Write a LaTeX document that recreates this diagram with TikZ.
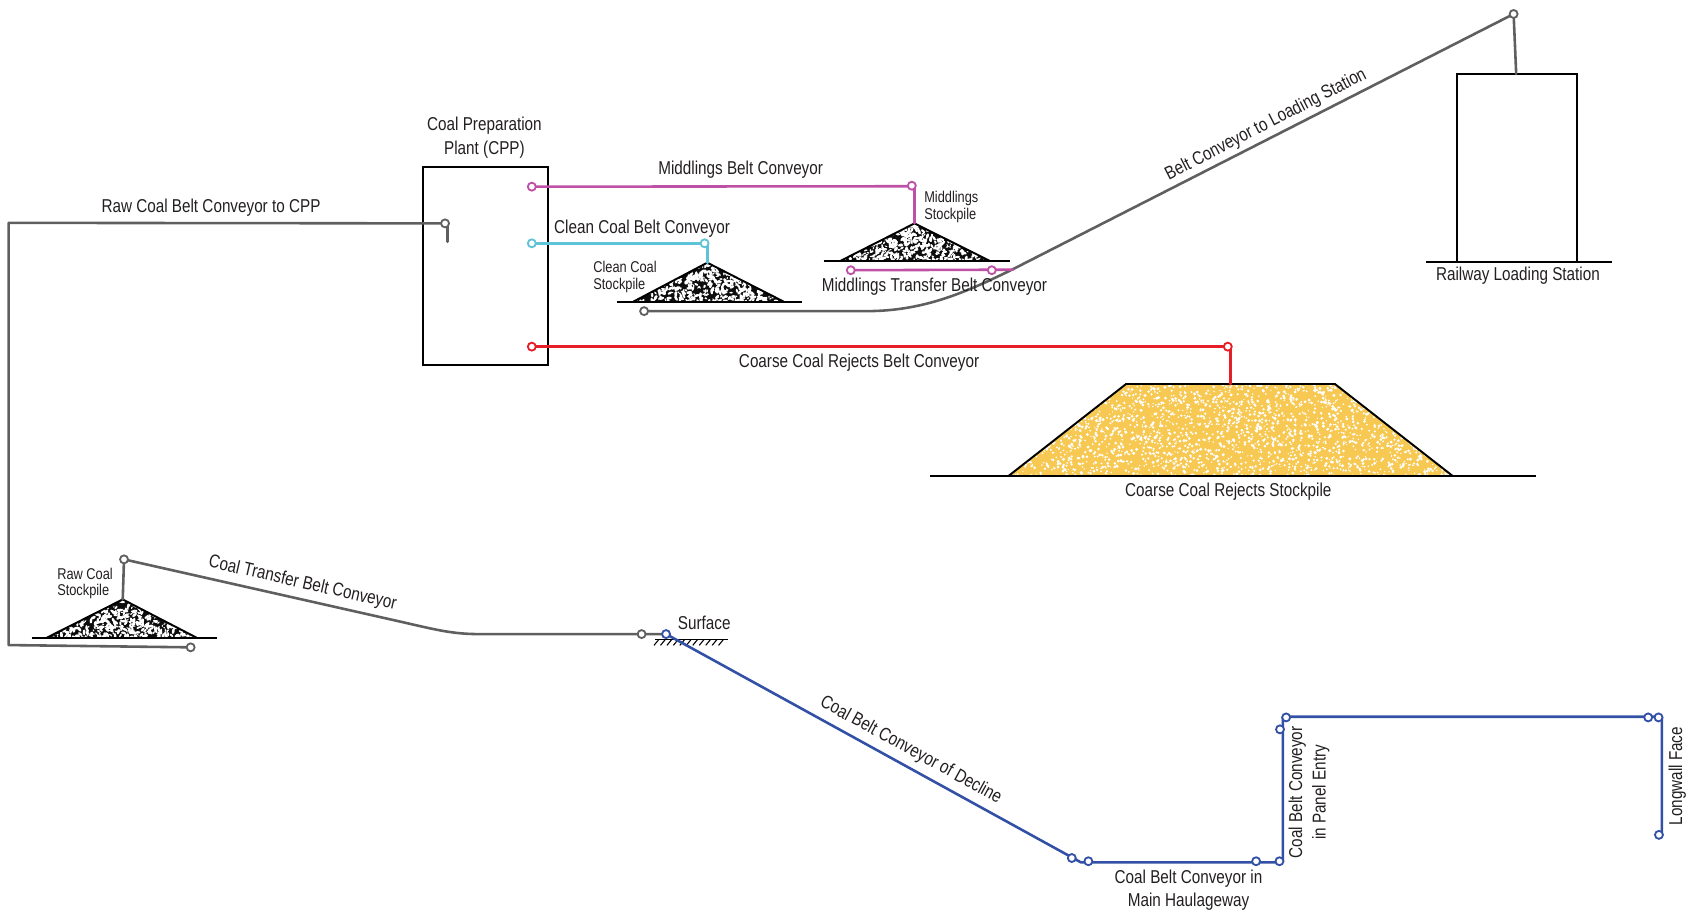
\documentclass[tikz,border=0pt]{standalone}
\usepackage{fontspec}
\setmainfont{Liberation Sans}[FakeStretch=0.82]
\definecolor{cgray}{RGB}{95,95,95}
\definecolor{cmag}{RGB}{190,80,165}
\definecolor{ccyan}{RGB}{95,195,215}
\definecolor{cred}{RGB}{230,30,40}
\definecolor{cblue}{RGB}{50,80,165}
\definecolor{cyel}{RGB}{247,200,82}
\definecolor{ctext}{RGB}{35,31,32}
\newcommand\coalpile[8]{%
  \begin{scope}
    \clip (#3,#5) -- (#1,#2) -- (#4,#5) -- cycle;
    \fill[black!95] (#3,#5) rectangle (#4,#2);
    \pgfmathsetseed{#8}
    \foreach \k in {1,...,700}{%
      \pgfmathsetmacro\spx{#3+rnd*(#4-#3)}%
      \pgfmathsetmacro\spy{#2+rnd*(#5-#2)}%
      \pgfmathsetmacro\spr{0.7+1.0*rnd}%
      \pgfmathsetmacro\spa{180*rnd}%
      \fill[white,rotate around={\spa:(\spx,\spy)}] (\spx,\spy) ellipse [x radius=1.6*\spr, y radius=0.8*\spr];}
  \end{scope}
  \draw[ground] (#3,#5) -- (#1,#2) -- (#4,#5);
  \draw[ground] (#6,#5) -- (#7,#5);
}
\begin{document}
\begin{tikzpicture}[x=1pt,y=-1pt,
  every node/.style={text=ctext,inner sep=0pt},
  lbl/.style={font=\fontsize{17.3}{21.7}\selectfont,align=center},
  slbl/.style={font=\fontsize{14.5}{15.5}\selectfont,align=left,anchor=west},
  belt/.style={line width=2.4pt,line join=round,line cap=round},
  ground/.style={line width=1.8pt,black,line join=miter},
  pulley/.style={circle,draw,fill=white,line width=1.7pt,minimum size=7.4pt,inner sep=0pt}]
\useasboundingbox (0,0) rectangle (1568,847);

% ---------- named points ----------
\coordinate (gA) at (177.1,601.3);
\coordinate (gB) at (413.4,207.5);
\coordinate (gC) at (115.2,519.6);
\coordinate (gD) at (596,589);
\coordinate (gE) at (598.3,289);
\coordinate (gF) at (1406,13);
\coordinate (mA) at (494,173.4);
\coordinate (mB) at (847,172.5);
\coordinate (mC) at (790.3,251);
\coordinate (mD) at (921.3,251);
\coordinate (cA) at (494,226);
\coordinate (cB) at (654.5,226);
\coordinate (rA) at (494,322);
\coordinate (rB) at (1140.5,322);
\coordinate (bA) at (618.7,589);
\coordinate (bB) at (995.6,797);
\coordinate (bC) at (1011,800);
\coordinate (bD) at (1166.8,800);
\coordinate (bE) at (1188.5,800);
\coordinate (bF) at (1189,677.5);
\coordinate (bG) at (1194.7,666.4);
\coordinate (bH) at (1531,666.4);
\coordinate (bI) at (1540.6,666.4);
\coordinate (bJ) at (1541,775.5);
\coordinate (rawApex) at (114,556.8);
\coordinate (cleanApex) at (657,244);
\coordinate (midApex) at (849.5,207.5);
\coordinate (rejTop) at (1143,356.7);
\coordinate (railTop) at (1408.4,68.7);

% ---------- structures ----------
\draw[ground] (393.3,154.8) rectangle (508.8,339);
\node[lbl] (tcpp) at (450,128) {Coal Preparation\\Plant (CPP)};

\draw[ground] (1353.3,243) -- (1353.3,68.7) -- (1464.7,68.7) -- (1464.7,243);
\draw[ground] (1325,243) -- (1497,243);
\node[lbl] (trail) at (1410,256) {Railway Loading Station};

% stockpiles
\coalpile{114}{556.8}{43.4}{182.7}{592.4}{29.4}{201.3}{3}
\coalpile{657}{244}{588.3}{728}{280.2}{573}{745}{5}
\coalpile{849.5}{207.5}{780.4}{919.7}{242.5}{765}{938}{9}

\begin{scope}
  \clip (936.7,442.2) -- (1046,356.7) -- (1240,356.7) -- (1349.5,442.2) -- cycle;
  \fill[cyel] (936.7,442.2) rectangle (1349.5,356.7);
  \pgfmathsetseed{11}
  \foreach \k in {1,...,2600}{%
    \pgfmathsetmacro\spx{936.7+rnd*412.8}%
    \pgfmathsetmacro\spy{356.7+rnd*85.5}%
    \pgfmathsetmacro\spr{0.6+0.9*rnd}%
    \fill[white] (\spx,\spy) circle (\spr);}
\end{scope}
\draw[ground] (936.7,442.2) -- (1046,356.7) -- (1240,356.7) -- (1349.5,442.2);
\draw[ground] (864,442.2) -- (1427,442.2);

% surface
\draw[line width=1.5pt] (608.5,594) -- (676,594);
\foreach \hx in {612,618,...,676}{\draw[line width=1pt] (\hx,594) -- (\hx-4.5,599.5);}
\node[lbl,anchor=west] (tsurf) at (629.5,579) {Surface};

% ---------- belts ----------
\draw[belt,cgray] (gA) -- (8,599.2) -- (8,207) -- (gB);
\draw[belt,cgray,line width=2.7pt] (416,210) -- (416,224.5);
\draw[belt,cgray] (gC) -- (rawApex);
\draw[belt,cgray] (gC) -- (370,577) .. controls (405,585) and (420,589) .. (445,589) -- (gD) -- (bA);
\draw[belt,cgray] (gE) -- (805,289) .. controls (860,289) and (900,270) .. (941,250) -- (gF) -- (railTop);
\draw[belt,cmag] (mA) -- (849.5,173) -- (midApex);
\draw[belt,cmag] (mC) -- (941,250.5);
\draw[belt,ccyan] (cA) -- (657,226) -- (cleanApex);
\draw[belt,cred] (rA) -- (1143,322) -- (rejTop);
\draw[belt,cblue] (bA) -- (1004,801) -- (1191.6,801) -- (1191.6,665.8) -- (1543.7,665.8) -- (1543.7,776);

% ---------- pulleys ----------
\foreach \p in {gA,gB,gC,gD,gE,gF}{\node[pulley,draw=cgray] at (\p) {};}
\foreach \p in {mA,mB,mC,mD}{\node[pulley,draw=cmag] at (\p) {};}
\foreach \p in {cA,cB}{\node[pulley,draw=ccyan] at (\p) {};}
\foreach \p in {rA,rB}{\node[pulley,draw=cred] at (\p) {};}
\foreach \p in {bA,bB,bC,bD,bE,bF,bG,bH,bI,bJ}{\node[pulley,draw=cblue] at (\p) {};}

% ---------- labels ----------
\node[lbl] (t1) at (196,193) {Raw Coal Belt Conveyor to CPP};
\node[lbl] (t2) at (688,158) {Middlings Belt Conveyor};
\node[lbl] (t3) at (596.4,212) {Clean Coal Belt Conveyor};
\node[lbl] (t4) at (868,266.3) {Middlings Transfer Belt Conveyor};
\node[lbl] (t5) at (798,337) {Coarse Coal Rejects Belt Conveyor};
\node[lbl] (t6) at (1141,457) {Coarse Coal Rejects Stockpile};
\node[lbl,rotate=27.2] (t7) at (1176,116) {Belt Conveyor to Loading Station};
\node[lbl,rotate=-12.8] (t8) at (281,542) {Coal Transfer Belt Conveyor};
\node[lbl,rotate=-28.7] (t9) at (846,697) {Coal Belt Conveyor of Decline};
\node[lbl] (t10) at (1104,827) {Coal Belt Conveyor in\\Main Haulageway};
\node[lbl,rotate=90] (t11) at (1216,736) {Coal Belt Conveyor\\in Panel Entry};
\node[lbl,rotate=90] (t12) at (1558,721) {Longwall Face};
\node[slbl] (s1) at (551,257) {Clean Coal\\Stockpile};
\node[slbl] (s2) at (858.4,192) {Middlings\\Stockpile};
\node[slbl] (s3) at (53,542) {Raw Coal\\Stockpile};
\end{tikzpicture}
\end{document}
